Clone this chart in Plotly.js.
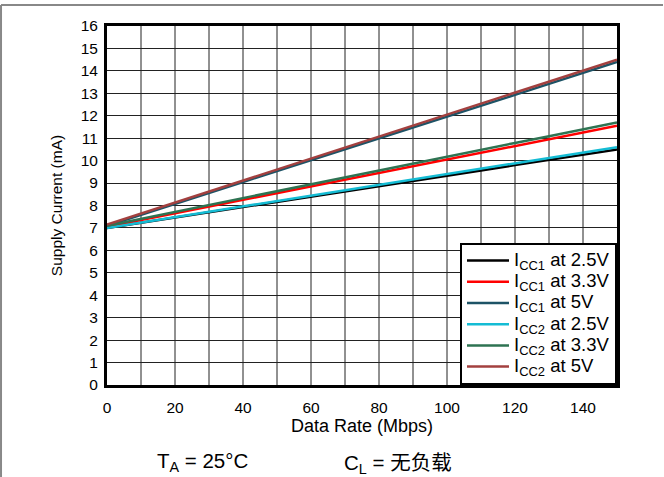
<!DOCTYPE html>
<html>
<head>
<meta charset="utf-8">
<script src="https://cdn.plot.ly/plotly-3.0.1.min.js"></script>
<style>html,body{margin:0;padding:0;background:#fff;}#chart{width:664px;height:477px;}</style>
</head>
<body>
<div id="chart"></div>
<script>
const dataRate = [0, 10, 20, 30, 40, 50, 60, 70, 80, 90, 100, 110, 120, 130, 140, 150];
const icc1_25 = [7.00, 7.23, 7.46, 7.70, 7.93, 8.16, 8.39, 8.63, 8.86, 9.09, 9.33, 9.56, 9.80, 10.03, 10.27, 10.50];
const icc1_33 = [7.05, 7.35, 7.65, 7.95, 8.25, 8.55, 8.85, 9.15, 9.45, 9.75, 10.05, 10.35, 10.65, 10.95, 11.25, 11.55];
const icc1_5 = [7.10, 7.58, 8.07, 8.56, 9.05, 9.54, 10.02, 10.50, 10.98, 11.46, 11.95, 12.44, 12.93, 13.42, 13.91, 14.40];
const icc2_25 = [7.00, 7.24, 7.48, 7.72, 7.96, 8.20, 8.44, 8.68, 8.92, 9.16, 9.40, 9.64, 9.88, 10.12, 10.36, 10.60];
const icc2_33 = [7.10, 7.41, 7.72, 8.03, 8.34, 8.65, 8.96, 9.26, 9.56, 9.87, 10.18, 10.49, 10.79, 11.09, 11.40, 11.70];
const icc2_5 = [7.15, 7.64, 8.13, 8.62, 9.11, 9.60, 10.09, 10.58, 11.07, 11.56, 12.05, 12.54, 13.03, 13.52, 14.01, 14.50];
const seriesNames = ["I<sub>CC1</sub> at 2.5V", "I<sub>CC1</sub> at 3.3V", "I<sub>CC1</sub> at 5V",
                     "I<sub>CC2</sub> at 2.5V", "I<sub>CC2</sub> at 3.3V", "I<sub>CC2</sub> at 5V"];
const seriesValues = [icc1_25, icc1_33, icc1_5, icc2_25, icc2_33, icc2_5];
const seriesColors = ["#000000", "#ff0000", "#1d5366", "#14bcd4", "#2e7352", "#a3403f"];
const xTicks = [0, 20, 40, 60, 80, 100, 120, 140];
const yTicks = [0,1,2,3,4,5,6,7,8,9,10,11,12,13,14,15,16];

const FONT = "Liberation Sans, Arial, sans-serif";

const traces = seriesValues.map((v, i) => ({
  x: dataRate, y: v, type: 'scatter', mode: 'lines',
  name: '<span style="font-size:18.5px">' + seriesNames[i] + '</span>',
  line: {color: seriesColors[i], width: 2.5}
}));

const layout = {
  width: 664, height: 477,
  margin: {l: 107, r: 47, t: 26, b: 92},
  paper_bgcolor: '#fff', plot_bgcolor: '#fff',
  font: {family: FONT, size: 15, color: '#000'},
  showlegend: true,
  legend: {
    x: 1, y: 0, xanchor: 'right', yanchor: 'bottom',
    bgcolor: '#fff', bordercolor: '#000', borderwidth: 2,
    font: {family: FONT, size: 14, color: '#000'},
    tracegroupgap: 0, itemwidth: 42
  },
  xaxis: {
    range: [0, 150], tickvals: xTicks, ticktext: xTicks.map(String),
    showgrid: false, zeroline: false,
    showline: true, mirror: true, linecolor: '#000', linewidth: 3,
    ticks: 'outside', ticklen: 6, tickcolor: 'rgba(0,0,0,0)',
    tickfont: {size: 15.5},
    title: {text: 'Data Rate (Mbps)', standoff: 0, font: {size: 18}},
    fixedrange: true
  },
  yaxis: {
    range: [0, 16], tickvals: yTicks, ticktext: yTicks.map(String),
    showgrid: true, gridcolor: '#222', gridwidth: 1, zeroline: false,
    showline: true, mirror: true, linecolor: '#000', linewidth: 3,
    ticks: 'outside', ticklen: 3, tickcolor: 'rgba(0,0,0,0)',
    tickfont: {size: 15.5},
    title: {text: 'Supply Current (mA)', standoff: 15, font: {size: 15.5}},
    fixedrange: true
  },
  shapes: [],
  annotations: [
    {xref: 'paper', yref: 'paper', x: 0.094, y: -0.214, xanchor: 'left', yanchor: 'middle',
     text: 'T<sub>A</sub> = 25°C', showarrow: false, font: {family: FONT, size: 20.5}},
    {xref: 'paper', yref: 'paper', x: 0.461, y: -0.214, xanchor: 'left', yanchor: 'middle',
     text: 'C<sub>L</sub> = <span style="font-family:Noto Sans CJK SC">无负载</span>', showarrow: false, font: {family: FONT, size: 20.5}}
  ]
};
// vertical gridlines every 10 Mbps, drawn as shapes in data x
for (let k = 10; k < 150; k += 10) {
  layout.shapes.push({type: 'line', xref: 'x', yref: 'paper', x0: k, x1: k, y0: 0, y1: 1,
    line: {color: '#222', width: 1}, layer: 'below'});
}
// outer frame (top and left)
layout.shapes.push({type: 'line', xref: 'paper', yref: 'paper', x0: -0.2078, x1: 1.0902, y0: 1.0585, y1: 1.0585,
  line: {color: '#888', width: 2}});
layout.shapes.push({type: 'line', xref: 'paper', yref: 'paper', x0: -0.2078, x1: -0.2078, y0: 1.0585, y1: -0.26,
  line: {color: '#888', width: 2}});

Plotly.newPlot('chart', traces, layout, {displayModeBar: false, staticPlot: true});
</script>
</body>
</html>
